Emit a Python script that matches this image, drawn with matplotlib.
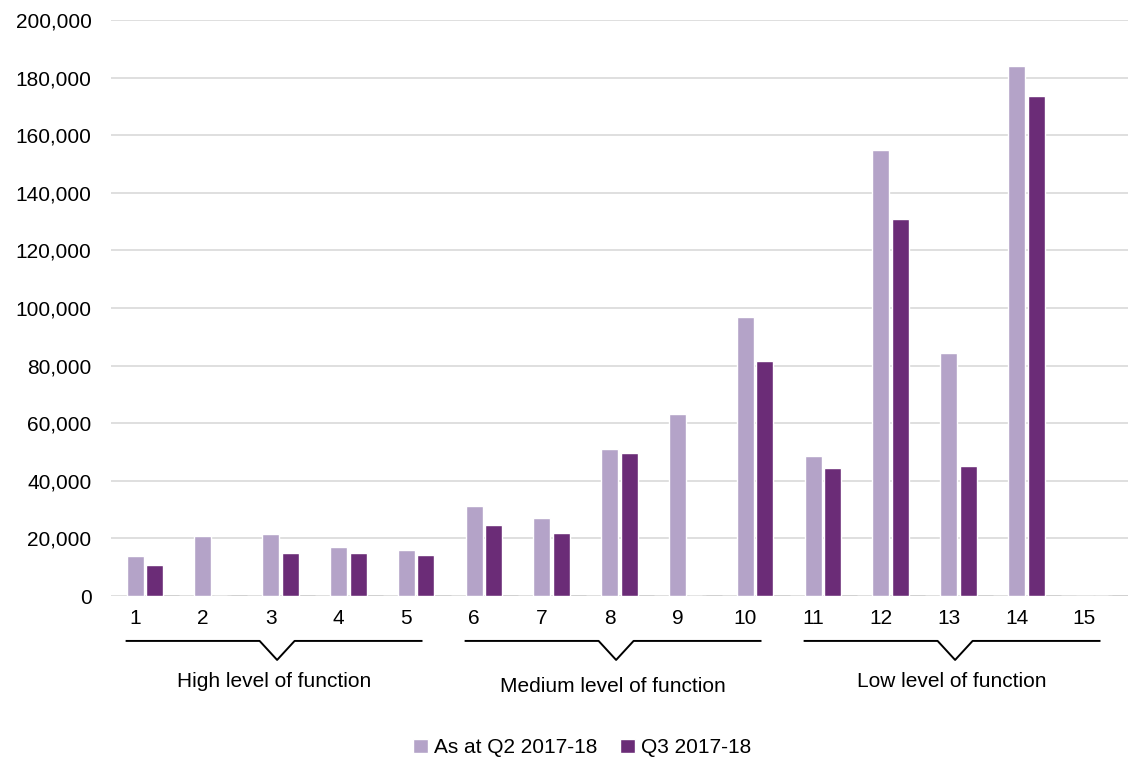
import numpy as np
import matplotlib.pyplot as plt

plt.rcParams['font.family'] = ['Liberation Sans', 'DejaVu Sans']

# Data
categories = [str(i) for i in range(1, 16)]
q2_values = [13800, 20700, 21400, 17100, 16000, 31300, 27000, 51000, 63200, 97000,
             48500, 154800, 84500, 183900, 0]
q3_values = [10900, 0, 15100, 15100, 14400, 24600, 21900, 49800, 0, 81600,
             44300, 131000, 45200, 173600, 0]
series_names = ["As at Q2 2017-18", "Q3 2017-18"]
group_names = ["High level of function", "Medium level of function", "Low level of function"]
group_start = [0, 5, 10]

light = '#b4a3c8'
dark = '#6b2c77'
grid_col = '#d9d9d9'
fs = 15

fig = plt.figure(figsize=(11.28, 7.6), dpi=100)
ax = fig.add_axes([111 / 1128, 1 - 596 / 760, 1 - 111 / 1128, 576 / 760])

x = np.arange(len(categories))
off = 0.144
ax.bar(x - off, q2_values, width=0.25, color=light, edgecolor='white', linewidth=1,
       label=series_names[0], zorder=3)
ax.bar(x + off, q3_values, width=0.25, color=dark, edgecolor='white', linewidth=1,
       label=series_names[1], zorder=3)
# empty third slot leaves a short grey baseline piece
ax.bar(x + 0.36, np.zeros(len(x)), width=0.3, color='none', edgecolor='#d0d0d0',
       linewidth=2, zorder=2)

ax.set_xlim(-0.5, 14.5)
ax.set_ylim(0, 200000)
ax.set_yticks(np.arange(0, 200001, 20000))
ax.set_yticklabels([f"{v:,}" for v in range(0, 200001, 20000)])
ax.set_xticks(x - off)
ax.set_xticklabels(categories)
ax.tick_params(axis='both', length=0, labelsize=fs, colors='black')
ax.tick_params(axis='y', pad=14)
ax.tick_params(axis='x', pad=9)
ax.yaxis.grid(True, color=grid_col, linewidth=1.2, zorder=0)
ax.set_axisbelow(True)
for s in ax.spines.values():
    s.set_visible(False)

# Group brackets under the axis
tr = ax.get_xaxis_transform()
for g0, name in zip(group_start, group_names):
    x0, x1, xm = g0 - 0.27, g0 + 4.08, g0 + 1.95
    hw = 0.258
    ax.plot([x0, xm - hw, xm, xm + hw, x1], [-0.078, -0.078, -0.111, -0.078, -0.078],
            color='black', linewidth=1.4, transform=tr, clip_on=False)
    ypos = -0.157 if g0 == 5 else -0.148
    ax.text(xm - 0.05, ypos, name, transform=tr, ha='center', va='center', fontsize=fs)

fig.legend(loc='center', bbox_to_anchor=(0.516, 0.016), ncol=2, frameon=False,
           fontsize=fs, handlelength=0.7, handleheight=0.7, handletextpad=0.3,
           columnspacing=1.1)

fig.savefig('out.png', dpi=100)
